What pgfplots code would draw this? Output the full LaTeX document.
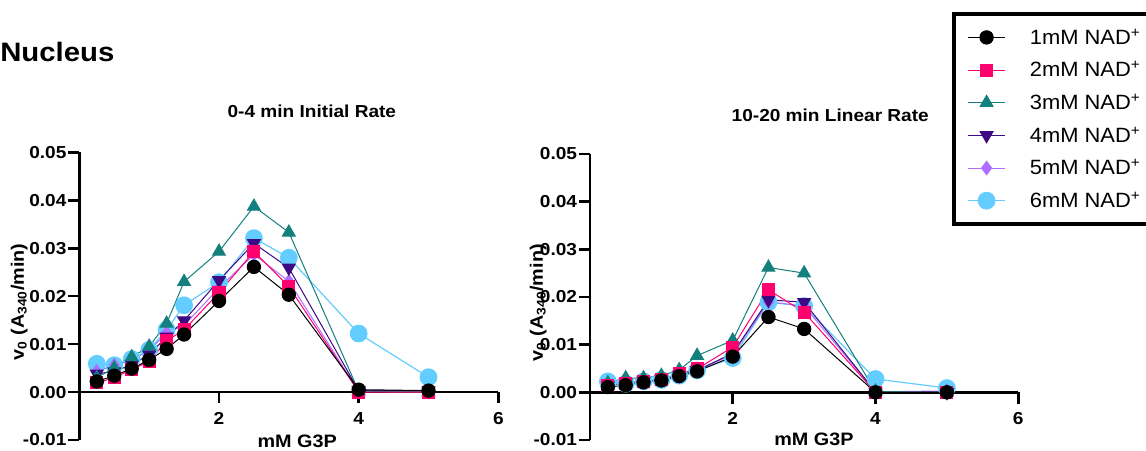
\documentclass[border=0pt]{standalone}
\usepackage{fontspec}
\setmainfont[FakeStretch=1.1]{Liberation Sans}
\newfontfamily\legfont[FakeStretch=1.06]{Liberation Sans}
\usepackage{pgfplots}
\pgfplotsset{compat=1.18}

\definecolor{cmag}{RGB}{255,0,110}
\definecolor{cteal}{RGB}{20,128,125}
\definecolor{cpurp}{RGB}{60,10,130}
\definecolor{clav}{RGB}{175,110,255}
\definecolor{cblue}{RGB}{100,205,255}

% 0-4 min initial rate
\pgfplotstableread{
x    c1     c2     c3     c4     c5     c6
0.25 0.0022 0.0019 0.0030 0.0038 0.0043 0.0059
0.5  0.0034 0.0030 0.0050 0.0043 0.0056 0.0056
0.75 0.0049 0.0047 0.0073 0.0057 0.0067 0.0069
1.0  0.0067 0.0064 0.0095 0.0078 0.0087 0.0088
1.25 0.0090 0.0107 0.0143 0.0115 0.0123 0.0130
1.5  0.0120 0.0130 0.0230 0.0149 0.0139 0.0181
2    0.0190 0.0207 0.0293 0.0233 0.0217 0.0229
2.5  0.0261 0.0293 0.0387 0.0310 0.0287 0.0321
3    0.0203 0.0220 0.0333 0.0259 0.0231 0.0280
4    0.0005 0.0000 0.0002 0.0003 0.0001 0.0122
5    0.0003 0.0000 0.0000 0.0003 0.0000 0.0031
}\initial

% 10-20 min linear rate
\pgfplotstableread{
x    c1     c2     c3     c4     c5     c6
0.25 0.0011 0.0015 0.0020 0.0014 0.0015 0.0023
0.5  0.0015 0.0018 0.0030 0.0020 0.0020 0.0018
0.75 0.0021 0.0023 0.0030 0.0023 0.0022 0.0023
1.0  0.0025 0.0027 0.0035 0.0028 0.0028 0.0026
1.25 0.0034 0.0039 0.0047 0.0036 0.0037 0.0035
1.5  0.0044 0.0049 0.0077 0.0046 0.0047 0.0046
2    0.0075 0.0095 0.0109 0.0082 0.0079 0.0072
2.5  0.0158 0.0215 0.0262 0.0194 0.0190 0.0189
3    0.0133 0.0168 0.0250 0.0189 0.0181 0.0181
4    0.0000 0.0000 0.0002 0.0001 0.0001 0.0028
5    0.0000 0.0000 0.0000 0.0000 0.0003 0.0009
}\linear

\pgfplotsset{
  prism/.style={
    scale only axis, anchor=south west, clip=false,
    xmin=0, xmax=6, ymin=-0.01, ymax=0.05,
    axis x line=middle, axis y line=left,
    hide obscured x ticks=false, hide obscured y ticks=false,
    axis line style={-, line width=2pt},
    every inner x axis line/.append style={line width=2pt},
    every outer y axis line/.append style={line width=2pt},
    xtick={2,4,6}, xticklabels={2,4,6},
    ytick={-0.01,0,0.01,0.02,0.03,0.04,0.05},
    yticklabels={-0.01,0.00,0.01,0.02,0.03,0.04,0.05},
    scaled y ticks=false,
    minor tick num=0,
    tick align=outside, major tick length=8.5pt,
    tick style={line width=2pt, black},
    ticklabel style={font=\fontsize{13}{15}\selectfont\bfseries},
    yticklabel style={inner xsep=1pt},
    xticklabel style={yshift=-3pt},
    label style={font=\fontsize{13.5}{16}\selectfont\bfseries},
    title style={font=\fontsize{13}{15}\selectfont\bfseries, anchor=center},
    xlabel={mM G3P},
    ylabel={v\textsubscript{0} (A\textsubscript{340}/min)},
  },
  s1/.style={black, line width=0.75pt, mark=*, mark size=5pt, mark options={solid, fill=black}},
  s2/.style={cmag, line width=0.75pt, mark=square*, mark size=4.5pt, mark options={solid, fill=cmag}},
  s3/.style={cteal, line width=0.75pt, mark=triangle*, mark size=5.5pt, mark options={solid, fill=cteal}},
  s4/.style={cpurp, line width=0.75pt, mark=triangle*, mark size=5.5pt, mark options={solid, fill=cpurp, rotate=180}},
  s5/.style={clav, line width=0.75pt, mark=diamond*, mark size=5pt, mark options={solid, fill=clav}},
  s6/.style={cblue, line width=0.9pt, mark=*, mark size=6.2pt, mark options={solid, fill=cblue}},
}

\begin{document}
\begin{tikzpicture}
\begin{axis}[prism,
    at={(59.5pt,7.5pt)}, width=314.25pt, height=215.8pt,
    title={0-4 min Initial Rate},
    title style={at={(axis description cs:0.555,1.115)}},
    xlabel style={at={(axis description cs:0.52,-0.026)}, anchor=base, inner sep=0pt},
    ylabel style={at={(axis description cs:-0.1435,0.48)}, anchor=center},
]
\addplot[s6] table[x=x, y=c6] {\initial};
\addplot[s5] table[x=x, y=c5] {\initial};
\addplot[s4] table[x=x, y=c4] {\initial};
\addplot[s3] table[x=x, y=c3] {\initial};
\addplot[s2] table[x=x, y=c2] {\initial};
\addplot[s1] table[x=x, y=c1] {\initial};
\end{axis}

\begin{axis}[prism,
    at={(442.5pt,7.5pt)}, width=321.2pt, height=214.5pt,
    title={10-20 min Linear Rate},
    title style={at={(axis description cs:0.561,1.108)}},
    xlabel style={at={(axis description cs:0.523,-0.018)}, anchor=base, inner sep=0pt},
    ylabel style={at={(axis description cs:-0.121,0.48)}, anchor=center},
    reverse legend,
    legend style={at={(axis description cs:0.846,1.495)}, anchor=north west,
      draw=black, line width=2.5pt, fill=white,
      font=\legfont\fontsize{15.5}{18}\selectfont,
      nodes={inner sep=2pt},
      row sep=7.5pt, column sep=16pt, inner xsep=10pt, inner ysep=9pt},
    legend cell align=left,
    legend image code/.code={%
      \draw[mark repeat=2, mark phase=2] plot coordinates {(0pt,0pt) (14pt,0pt) (28pt,0pt)};},
]
\addplot[s6] table[x=x, y=c6] {\linear};
\addplot[s5] table[x=x, y=c5] {\linear};
\addplot[s4] table[x=x, y=c4] {\linear};
\addplot[s3] table[x=x, y=c3] {\linear};
\addplot[s2] table[x=x, y=c2] {\linear};
\addplot[s1] table[x=x, y=c1] {\linear};
\legend{6mM NAD\textsuperscript{+}, 5mM NAD\textsuperscript{+}, 4mM NAD\textsuperscript{+},
        3mM NAD\textsuperscript{+}, 2mM NAD\textsuperscript{+}, 1mM NAD\textsuperscript{+}}
\end{axis}

\node[anchor=west, inner sep=0pt, font=\fontsize{20}{23}\selectfont\bfseries] at (0pt,298.5pt) {Nucleus};

\pgfresetboundingbox
\useasboundingbox (0pt,0pt) rectangle (859.5pt,337.5pt);
\end{tikzpicture}
\end{document}
